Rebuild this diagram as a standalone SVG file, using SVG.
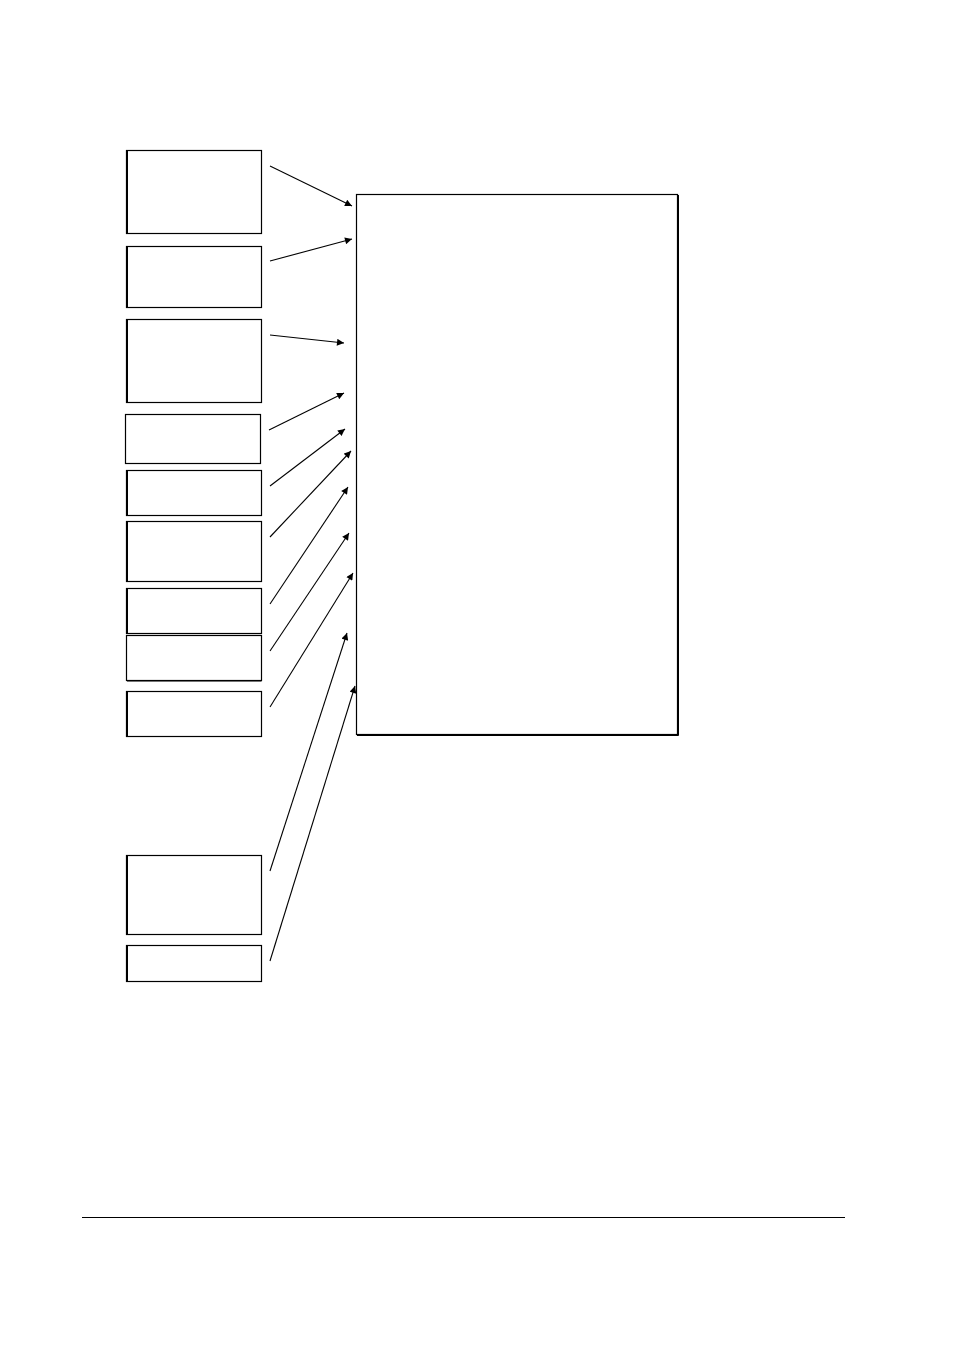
<svg xmlns="http://www.w3.org/2000/svg" width="954" height="1350" viewBox="0 0 954 1350">
<style>
.box{fill:#fff;stroke:#000;stroke-width:1.2}
.sh{stroke:#000;stroke-width:1;fill:none}
.conn line{stroke:#000;stroke-width:1.1;marker-end:url(#ah)}
</style>
<defs>
<marker id="ah" viewBox="0 0 10 10" refX="10" refY="5" markerWidth="8" markerHeight="7" markerUnits="userSpaceOnUse" orient="auto">
<path d="M0,0 L10,5 L0,10 z" fill="#000"/>
</marker>
</defs>
<rect width="954" height="1350" fill="#fff"/>
<g id="main"><rect class="box" x="356.5" y="194.5" width="321" height="540"/><path class="sh" d="M678.5,195 V735.5 H357"/></g>
<g id="n1"><rect class="box" x="126.5" y="150.5" width="135" height="83"/><path class="sh" d="M127.5,151 V233"/></g>
<g id="n2"><rect class="box" x="126.5" y="246.5" width="135" height="61"/><path class="sh" d="M127.5,247 V307"/></g>
<g id="n3"><rect class="box" x="126.5" y="319.5" width="135" height="83"/><path class="sh" d="M127.5,320 V402"/></g>
<g id="n4"><rect class="box" x="125.5" y="414.5" width="135" height="49"/></g>
<g id="n5"><rect class="box" x="126.5" y="470.5" width="135" height="45"/><path class="sh" d="M127.5,471 V515"/></g>
<g id="n6"><rect class="box" x="126.5" y="521.5" width="135" height="60"/><path class="sh" d="M127.5,522 V581.5 H261"/></g>
<g id="n7"><rect class="box" x="126.5" y="588.5" width="135" height="45"/><path class="sh" d="M127.5,589 V633"/></g>
<g id="n8"><rect class="box" x="126.5" y="635.5" width="135" height="45"/><path class="sh" d="M127,681 H261.5"/></g>
<g id="n9"><rect class="box" x="126.5" y="691.5" width="135" height="45"/><path class="sh" d="M127.5,692 V736"/></g>
<g id="n10"><rect class="box" x="126.5" y="855.5" width="135" height="79"/><path class="sh" d="M127.5,856 V934"/></g>
<g id="n11"><rect class="box" x="126.5" y="945.5" width="135" height="36"/><path class="sh" d="M127.5,946 V981"/></g>
<g id="connectors" class="conn">
<line x1="270" y1="166" x2="352" y2="206"/>
<line x1="270" y1="261" x2="352" y2="239"/>
<line x1="270" y1="335" x2="344" y2="343"/>
<line x1="269" y1="430" x2="344" y2="393"/>
<line x1="270" y1="486" x2="345" y2="429"/>
<line x1="270" y1="537" x2="351" y2="451"/>
<line x1="270" y1="604" x2="348" y2="487"/>
<line x1="270" y1="651" x2="349" y2="533"/>
<line x1="270" y1="707" x2="353" y2="573"/>
<line x1="270" y1="871" x2="347" y2="633"/>
<line x1="270" y1="961" x2="355" y2="686"/>
</g>
<line x1="82" y1="1217.5" x2="845" y2="1217.5" stroke="#000" stroke-width="1"/>
</svg>
